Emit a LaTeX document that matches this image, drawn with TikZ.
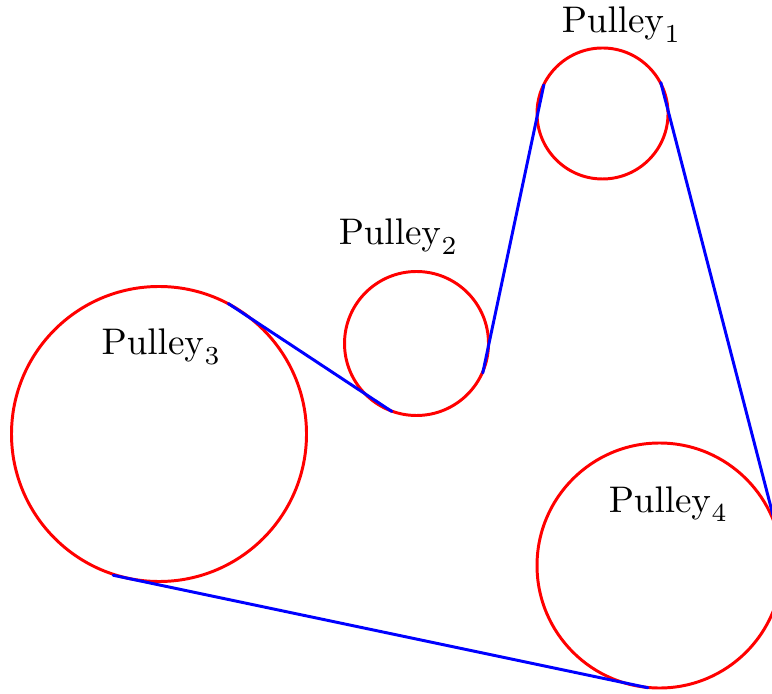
\documentclass[tikz,border=0pt]{standalone}
\usetikzlibrary{calc}
\tikzset{
  pulley/.style={draw=red, line width=0.8pt},
  belt/.style={draw=blue, line width=0.8pt, line cap=round},
  plabel/.style={anchor=base west, inner sep=0pt, font=\normalsize}
}
\begin{document}
\begin{tikzpicture}[x=0.27pt, y=0.27pt]
\useasboundingbox (0,0) rectangle (772,-693);
\clip (0,0) rectangle (772,-693);
% centres
\coordinate (c1) at (602.5,-113.5);
\coordinate (c2) at (416.5,-343.5);
\coordinate (c3) at (159,-434);
\coordinate (c4) at (659.5,-565.5);
% pulleys
\draw[pulley] (c1) circle[radius=65.5];
\draw[pulley] (c2) circle[radius=72];
\draw[pulley] (c3) circle[radius=147.5];
\draw[pulley] (c4) circle[radius=122.5];
% belt contact points
\coordinate (t14) at ($(c1)+(28:66)$);
\coordinate (t41) at ($(c4)+(14.4:122.5)$);
\coordinate (t12) at ($(c1)+(154:65.3)$);
\coordinate (t21) at ($(c2)+(-24:72.5)$);
\coordinate (t23) at ($(c2)+(-110:72.3)$);
\coordinate (t32) at ($(c3)+(62:147.7)$);
\coordinate (t34) at ($(c3)+(-108:148.5)$);
\coordinate (t43) at ($(c4)+(-95.4:122.8)$);
% belt
\draw[belt] (t14) -- (t41);
\draw[belt] (t12) -- (t21);
\draw[belt] (t23) -- (t32);
\draw[belt] (t34) -- (t43);
% labels
\node[plabel] (l1) at (561,-33) {$\mathrm{Pulley}_1$};
\node[plabel] (l2) at (338,-245) {$\mathrm{Pulley}_2$};
\node[plabel] (l3) at (101,-355) {$\mathrm{Pulley}_3$};
\node[plabel] (l4) at (608,-512) {$\mathrm{Pulley}_4$};
\end{tikzpicture}
\end{document}
